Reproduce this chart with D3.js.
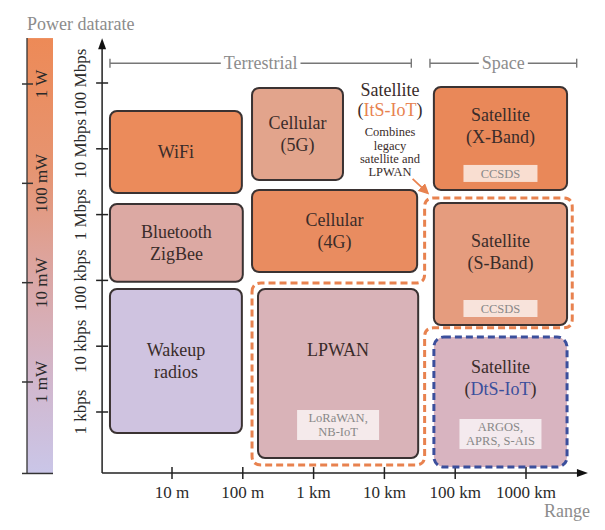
<!DOCTYPE html>
<html><head><meta charset="utf-8">
<script src="https://cdn.jsdelivr.net/npm/d3@7"></script>
<style>
body{margin:0;background:#fff}
svg{display:block}
</style>
</head><body>
<svg id="c" width="605" height="530" font-family="'Liberation Serif', 'DejaVu Serif', 'Times New Roman', serif"></svg>
<script>
// ---------- data ----------
const rateTicks  = [1e3, 1e4, 1e5, 1e6, 1e7, 1e8];
const rateLabels = ["1 kbps", "10 kbps", "100 kbps", "1 Mbps", "10 Mbps", "100 Mbps"];
const rangeTicks  = [10, 100, 1e3, 1e4, 1e5, 1e6];
const rangeLabels = ["10 m", "100 m", "1 km", "10 km", "100 km", "1000 km"];
const powerTicks  = [1e-3, 1e-2, 1e-1, 1];
const powerLabels = ["1 mW", "10 mW", "100 mW", "1 W"];
const powerExtent = [1.2e-4, 2.9];          // W, extent of the colour bar
const rangeAxisExtent = [1.03, 7.5e6];      // m
const rateAxisExtent  = [118, 4.8e8];       // bps

const techLabels = [["WiFi"], ["Bluetooth", "ZigBee"], ["Wakeup", "radios"],
  ["Cellular", "(5G)"], ["Cellular", "(4G)"], ["LPWAN"],
  ["Satellite", "(X-Band)"], ["Satellite", "(S-Band)"], ["Satellite", "(DtS-IoT)"]];
const techRangeMin = [1.33, 1.33, 1.33, 135, 135, 164, 5.0e4, 5.0e4, 5.0e4];
const techRangeMax = [97, 100, 97, 2600, 2.9e4, 3.0e4, 3.8e6, 3.8e6, 3.8e6];
const techRateMin  = [2.13e6, 9.5e4, 480, 3.36e6, 1.34e5, 200, 2.37e6, 2.1e4, 146];
const techRateMax  = [3.75e7, 1.45e6, 7.4e4, 8.4e7, 2.37e6, 7.4e4, 8.7e7, 1.5e6, 1.38e4];
const techTags = [null, null, null, null, null, ["LoRaWAN,", "NB-IoT"], ["CCSDS"], ["CCSDS"], ["ARGOS,", "APRS, S-AIS"]];

const domainNames = ["Terrestrial", "Space"];
const domainFrom  = [1.33, 4.4e4];
const domainTo    = [2.4e4, 5.2e6];
const domainRate  = 2e8;

// ItS-IoT region: union of two rectangles [rangeMin, rangeMax, rateMin, rateMax]
const itsRegionLow  = [135, 3.7e4, 157, 9.1e4];
const itsRegionHigh = [3.7e4, 4.5e6, 1.9e4, 1.79e6];
const itsTitle = ["Satellite", "(ItS-IoT)"];
const itsNote  = ["Combines", "legacy", "satellite and", "LPWAN"];
const itsAnchor = [1.2e4, 6.3e7];

// ---------- styles ----------
const techFill = ["#eb8b5b", "#dca9a3", "#cfc3e0", "#e2a48c", "#e98c60", "#d9b3b8", "#e98859", "#e59c7e", "#d8b4c0"];
const techDashed = [false, false, false, false, false, false, false, false, true];
const ink = "#3a2c2a", grey = "#8c8c8c", orange = "#e8824f", blue = "#3b4f9c";

// ---------- scales ----------
const svg = d3.select("#c");
const x = d3.scaleLog().domain([10, 1e6]).range([172, 526]);
const y = d3.scaleLog().domain([1e3, 1e8]).range([412, 83]);
const p = d3.scaleLog().domain([1e-3, 1]).range([382, 84]);

svg.append("rect").attr("width", 605).attr("height", 530).attr("fill", "#fff");

// ---------- power colour bar ----------
const defs = svg.append("defs");
const g = defs.append("linearGradient").attr("id", "pg").attr("x1", 0).attr("y1", 0).attr("x2", 0).attr("y2", 1);
[[0, "#ed8a57"], [0.3, "#e69471"], [0.55, "#dba7a5"], [0.8, "#d1b8cf"], [1, "#cac6e8"]]
  .forEach(s => g.append("stop").attr("offset", s[0]).attr("stop-color", s[1]));
const barX0 = 27, barX1 = 53;
svg.append("rect").attr("x", barX0).attr("y", p(powerExtent[1]))
  .attr("width", barX1 - barX0).attr("height", p(powerExtent[0]) - p(powerExtent[1]))
  .attr("fill", "url(#pg)");
svg.append("line").attr("x1", barX0).attr("x2", barX0)
  .attr("y1", p(powerExtent[1])).attr("y2", p(powerExtent[0]))
  .attr("stroke", "#333").attr("stroke-width", 1.3);
svg.append("line").attr("x1", barX0 - 5).attr("x2", barX1)
  .attr("y1", p(powerExtent[0])).attr("y2", p(powerExtent[0]))
  .attr("stroke", "#333").attr("stroke-width", 1.5);
powerTicks.forEach((t, i) => {
  svg.append("line").attr("x1", barX0 - 5).attr("x2", barX0 + 6)
    .attr("y1", p(t)).attr("y2", p(t)).attr("stroke", "#333").attr("stroke-width", 1.5);
  svg.append("text").attr("transform", `translate(41,${p(t)}) rotate(-90)`)
    .attr("text-anchor", "middle").attr("dy", "0.35em")
    .attr("font-size", 17).attr("fill", "#2a2a2a").text(powerLabels[i]);
});
svg.append("text").attr("x", 27).attr("y", 30).attr("font-size", 18).attr("fill", grey).text("Power datarate");

// ---------- axes ----------
const ax = x(rangeAxisExtent[0]), ay = y(rateAxisExtent[0]);
svg.append("line").attr("x1", ax).attr("x2", ax).attr("y1", ay).attr("y2", y(rateAxisExtent[1]) + 6)
  .attr("stroke", "#222").attr("stroke-width", 1.5);
svg.append("line").attr("x1", ax).attr("x2", x(rangeAxisExtent[1]) - 6).attr("y1", ay).attr("y2", ay)
  .attr("stroke", "#222").attr("stroke-width", 1.5);
const ty = y(rateAxisExtent[1]);
svg.append("path").attr("d", `M${ax},${ty} L${ax - 4},${ty + 11} L${ax + 4},${ty + 11} Z`).attr("fill", "#111");
const tx = x(rangeAxisExtent[1]);
svg.append("path").attr("d", `M${tx},${ay} L${tx - 11},${ay - 4} L${tx - 11},${ay + 4} Z`).attr("fill", "#111");

rateTicks.forEach((t, i) => {
  svg.append("line").attr("x1", ax - 6).attr("x2", ax + 6).attr("y1", y(t)).attr("y2", y(t))
    .attr("stroke", "#222").attr("stroke-width", 1.5);
  svg.append("text").attr("transform", `translate(80,${y(t)}) rotate(-90)`)
    .attr("text-anchor", "middle").attr("dy", "0.35em")
    .attr("font-size", 17).attr("fill", "#2a2a2a").text(rateLabels[i]);
});
rangeTicks.forEach((t, i) => {
  svg.append("line").attr("x1", x(t)).attr("x2", x(t)).attr("y1", ay - 6).attr("y2", ay + 6)
    .attr("stroke", "#222").attr("stroke-width", 1.5);
  svg.append("text").attr("x", x(t)).attr("y", ay + 25).attr("text-anchor", "middle")
    .attr("font-size", 17).attr("fill", "#2a2a2a").text(rangeLabels[i]);
});
svg.append("text").attr("x", 590).attr("y", 517).attr("text-anchor", "end")
  .attr("font-size", 18).attr("fill", grey).text("Range");

// ---------- Terrestrial / Space brackets ----------
domainNames.forEach((n, i) => {
  const x0 = x(domainFrom[i]), x1 = x(domainTo[i]), yy = y(domainRate);
  const gg = svg.append("g");
  gg.append("line").attr("x1", x0).attr("x2", x1).attr("y1", yy).attr("y2", yy).attr("stroke", "#777").attr("stroke-width", 1.4);
  [x0, x1].forEach(xx => gg.append("line").attr("x1", xx).attr("x2", xx).attr("y1", yy - 4.5).attr("y2", yy + 4.5)
    .attr("stroke", "#777").attr("stroke-width", 1.4));
  const bg = gg.append("rect").attr("fill", "#fff");
  const t = gg.append("text").attr("x", (x0 + x1) / 2).attr("y", yy).attr("dy", "0.35em")
    .attr("text-anchor", "middle").attr("font-size", 18).attr("fill", grey).text(n);
  const w = t.node().getComputedTextLength();
  bg.attr("x", (x0 + x1) / 2 - w / 2 - 3).attr("y", yy - 8).attr("width", w + 6).attr("height", 16);
});

// ---------- ItS-IoT region outline ----------
function roundedPath(pts, r) {
  let d = "";
  const n = pts.length;
  for (let i = 0; i < n; i++) {
    const a = pts[(i - 1 + n) % n], b = pts[i], c = pts[(i + 1) % n];
    const l1 = Math.hypot(a[0] - b[0], a[1] - b[1]), l2 = Math.hypot(c[0] - b[0], c[1] - b[1]);
    const r1 = Math.min(r, l1 / 2), r2 = Math.min(r, l2 / 2);
    const p1 = [b[0] + (a[0] - b[0]) / l1 * r1, b[1] + (a[1] - b[1]) / l1 * r1];
    const p2 = [b[0] + (c[0] - b[0]) / l2 * r2, b[1] + (c[1] - b[1]) / l2 * r2];
    d += (i === 0 ? "M" : "L") + p1[0] + "," + p1[1] + " Q" + b[0] + "," + b[1] + " " + p2[0] + "," + p2[1];
  }
  return d + "Z";
}
{
  const L = itsRegionLow, H = itsRegionHigh;
  const pts = [
    [x(L[0]), y(L[3])], [x(L[1]), y(L[3])], [x(H[0]), y(H[3])], [x(H[1]), y(H[3])],
    [x(H[1]), y(H[2])], [x(H[0]), y(H[2])], [x(L[1]), y(L[2])], [x(L[0]), y(L[2])]
  ];
  svg.append("path").attr("d", roundedPath(pts, 9)).attr("fill", "none")
    .attr("stroke", orange).attr("stroke-width", 3).attr("stroke-dasharray", "7,4");
}

// ---------- technology boxes ----------
function styledLine(sel, line) {
  const m = line.match(/^\((.*-IoT)\)$/);
  if (m) {
    sel.append("tspan").text("(");
    sel.append("tspan").attr("fill", m[1].startsWith("D") ? blue : orange).text(m[1]);
    sel.append("tspan").text(")");
  } else sel.text(line);
}
techLabels.forEach((lines, i) => {
  const x0 = x(techRangeMin[i]), x1 = x(techRangeMax[i]);
  const y0 = y(techRateMax[i]), y1 = y(techRateMin[i]);
  const cx = (x0 + x1) / 2;
  const r = svg.append("rect").attr("x", x0).attr("y", y0).attr("width", x1 - x0).attr("height", y1 - y0)
    .attr("fill", techFill[i]);
  if (techDashed[i]) r.attr("rx", 10).attr("stroke", blue).attr("stroke-width", 3).attr("stroke-dasharray", "7,4");
  else r.attr("rx", 7).attr("stroke", "#3a3232").attr("stroke-width", 2);
  let textBottom = y1;
  const tag = techTags[i];
  if (tag) {
    const th = tag.length > 1 ? 30 : 17, tw = tag.length > 1 ? 82 : 74;
    const tb = y1 - (tag.length > 1 ? 18 : 8);
    svg.append("rect").attr("x", cx - tw / 2).attr("y", tb - th).attr("width", tw).attr("height", th)
      .attr("fill", "#fff").attr("fill-opacity", 0.72);
    tag.forEach((t, k) => {
      svg.append("text").attr("x", cx).attr("y", tb - th / 2 + (k - (tag.length - 1) / 2) * 14)
        .attr("dy", "0.35em").attr("text-anchor", "middle").attr("font-size", 12.5).attr("fill", "#888")
        .text(t);
    });
    textBottom = tb - th;
  }
  const cy = (y0 + textBottom) / 2;
  lines.forEach((l, k) => {
    const t = svg.append("text").attr("x", cx).attr("y", cy + (k - (lines.length - 1) / 2) * 22)
      .attr("dy", "0.35em").attr("text-anchor", "middle").attr("font-size", 18).attr("fill", ink);
    styledLine(t, l);
  });
});

// ---------- ItS-IoT annotation ----------
{
  const cx = x(itsAnchor[0]), by = y(itsAnchor[1]);
  itsTitle.forEach((l, k) => {
    const t = svg.append("text").attr("x", cx).attr("y", by + k * 20).attr("text-anchor", "middle")
      .attr("font-size", 18).attr("fill", ink);
    styledLine(t, l);
  });
  itsNote.forEach((l, k) => {
    svg.append("text").attr("x", cx).attr("y", by + 40 + k * 13.3).attr("text-anchor", "middle")
      .attr("font-size", 12.5).attr("fill", ink).text(l);
  });
  const tipX = x(itsRegionHigh[0]) + 3, tipY = y(itsRegionHigh[3]) - 5;
  defs.append("marker").attr("id", "ah").attr("viewBox", "0 0 10 10").attr("refX", 8).attr("refY", 5)
    .attr("markerWidth", 6).attr("markerHeight", 6).attr("orient", "auto")
    .append("path").attr("d", "M0,0 L10,5 L0,10 Z").attr("fill", orange);
  svg.append("line").attr("x1", tipX - 15).attr("y1", tipY - 14).attr("x2", tipX).attr("y2", tipY)
    .attr("stroke", orange).attr("stroke-width", 1.8).attr("marker-end", "url(#ah)");
}
</script>
</body></html>
